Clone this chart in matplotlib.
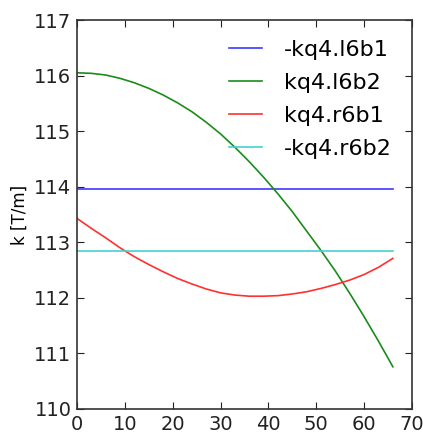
import matplotlib
matplotlib.use("Agg")
import matplotlib.pyplot as plt

s = [0, 3, 6, 9, 12, 15, 18, 21, 24, 27, 30, 33, 36, 39, 42, 45, 48, 51, 54, 57, 60, 63, 66]
kq4_l6b1 = [113.96] * len(s)
kq4_l6b2 = [116.05, 116.04, 116.01, 115.95, 115.87, 115.77, 115.65, 115.51, 115.35,
            115.16, 114.95, 114.71, 114.45, 114.17, 113.87, 113.55, 113.20, 112.85,
            112.48, 112.08, 111.66, 111.22, 110.76]
kq4_r6b1 = [113.43, 113.25, 113.08, 112.90, 112.74, 112.60, 112.47, 112.35, 112.25,
            112.16, 112.09, 112.05, 112.03, 112.03, 112.04, 112.07, 112.11, 112.17,
            112.24, 112.32, 112.42, 112.55, 112.71]
kq4_r6b2 = [112.84] * len(s)
labels = ["-kq4.l6b1", "kq4.l6b2", "kq4.r6b1", "-kq4.r6b2"]
colors = ["#3a3aff", "#1a8c1a", "#ff3030", "#45d0d0"]

fig = plt.figure(figsize=(4.23, 4.33), dpi=100)
ax = fig.add_axes([77/423, 1 - 409/433, (412-77)/423, (409-20)/433])
for y, lab, c in zip([kq4_l6b1, kq4_l6b2, kq4_r6b1, kq4_r6b2], labels, colors):
    ax.plot(s, y, color=c, lw=1.2, label=lab)

ax.set_xlim(0, 70)
ax.set_ylim(110, 117)
ax.set_xticks(range(0, 71, 10))
ax.set_yticks(range(110, 118))
ax.tick_params(direction="in", top=True, right=True, labelsize=14, length=5,
               width=0.8, colors="#222222", pad=4)
for sp in ax.spines.values():
    sp.set_color("#333333")
    sp.set_linewidth(1.2)
ax.set_ylabel("k [T/m]", fontsize=12, labelpad=4)
leg = ax.legend(loc="upper right", frameon=False, fontsize=16, handlelength=1.5,
                handletextpad=1.0, labelspacing=0.58, borderaxespad=0.5)
fig.savefig("out.png", dpi=100)
